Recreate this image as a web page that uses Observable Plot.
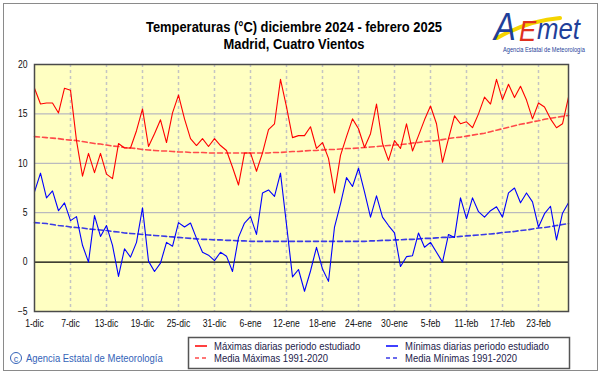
<!DOCTYPE html>
<html>
<head>
<meta charset="utf-8">
<script src="https://cdn.jsdelivr.net/npm/d3@7"></script>
<script src="https://cdn.jsdelivr.net/npm/@observablehq/plot@0.6"></script>
<style>
  html, body { margin: 0; padding: 0; background: #fff; }
  #wrap { position: relative; width: 601px; height: 374px; overflow: hidden; background: #fff;
          font-family: "Liberation Sans", Arial, sans-serif; }
  #border { position: absolute; left: 3px; top: 3px; width: 593px; height: 366px; border: 1px solid #8a8a8a; }
  #chart { position: absolute; left: 0; top: 56px; }
  .abs { position: absolute; left: 0; top: 0; }
</style>
</head>
<body>
<div id="wrap">
  <div id="border"></div>
  <svg class="abs" width="601" height="60" id="head">
    <text x="294" y="32" text-anchor="middle" font-size="15" font-weight="bold" fill="#000" class="cmp">Temperaturas (°C) diciembre 2024 - febrero 2025</text>
    <text x="294" y="49" text-anchor="middle" font-size="15" font-weight="bold" fill="#000" class="cmp">Madrid, Cuatro Vientos</text>
    <g id="logo">
      <path d="M497,38 C515,28 535,20 560,18" fill="none" stroke="#f5d400" stroke-width="4" stroke-linecap="round"/>
      <text x="494" y="40" font-size="38" font-style="italic" fill="#1f3f9a" class="cmp">A</text>
      <text x="519" y="41" font-size="30" font-style="italic" fill="#e0301e" class="cmp">E</text>
      <text x="537" y="39" font-size="30" font-style="italic" fill="#1f3f9a" class="cmp">met</text>
      <text x="544" y="52" text-anchor="middle" font-size="6.6" fill="#1f3f9a" class="cmp">Agencia Estatal de Meteorología</text>
    </g>
  </svg>
  <div id="chart"></div>
  <svg class="abs" width="601" height="374" id="foot" style="pointer-events:none">
    <g>
      <circle cx="16" cy="358" r="5.5" fill="none" stroke="#3463b8" stroke-width="1"/>
      <text x="16" y="361.5" text-anchor="middle" font-size="9" fill="#3463b8">c</text>
      <text x="26" y="362" font-size="11" fill="#3463b8" class="cmp">Agencia Estatal de Meteorología</text>
    </g>
    <rect x="188.5" y="337.5" width="381" height="31" fill="#fff" stroke="#555" stroke-width="1.5"/>
    <g id="legend"></g>
  </svg>
</div>
<script>
// ---- data ----
const tmax = [17.6,16.0,16.1,16.1,15.1,17.6,17.4,12.3,8.7,11.0,
              9.05,11.0,8.9,8.45,12.0,11.55,11.55,13.3,15.5,11.7,
              13.0,14.4,12.1,15.1,16.9,14.5,12.5,11.8,12.5,11.7,
              12.5,11.8,11.3,9.6,7.8,11.05,11.05,9.2,11.05,13.4,
              14.0,18.5,15.7,12.6,12.8,12.8,13.7,11.5,12.1,10.5,
              7.0,10.8,12.7,14.5,13.5,11.6,13.0,16.0,12.0,10.3,
              12.3,11.5,14.0,11.25,12.8,14.4,15.8,14.0,10.1,12.5,
              14.8,14.0,14.2,13.6,15.0,16.7,16.0,18.5,16.45,18.0,
              16.65,17.8,16.4,14.5,16.1,15.7,14.5,13.6,14.0,16.7];
const tmin = [7.1,9.0,6.5,7.2,5.2,6.0,4.2,4.6,1.7,0.0,
              4.7,2.6,3.7,1.7,-1.45,1.35,0.5,2.0,5.5,0.1,
              -0.95,-0.1,2.0,1.6,4.0,3.55,3.95,2.4,1.0,0.7,
              0.15,1.0,0.6,-0.95,2.5,3.95,4.6,2.8,7.0,7.3,
              6.65,9.0,3.8,-1.5,-0.75,-2.95,-0.9,1.5,-0.7,-1.95,
              3.55,5.9,8.55,7.65,9.5,7.1,4.55,6.7,4.55,3.7,
              2.95,-0.45,0.55,0.65,2.95,1.5,2.0,1.0,0.0,2.8,
              2.5,6.5,4.4,6.5,5.1,4.55,5.2,5.6,4.55,7.0,
              7.5,6.0,7.0,6.1,3.55,4.9,5.65,2.25,4.95,6.0];
const normMax = [12.7,12.65,12.6,12.55,12.5,12.4,12.35,12.3,12.2,12.1,
                 12.0,11.95,11.85,11.75,11.7,11.6,11.55,11.5,11.4,11.35,
                 11.3,11.25,11.25,11.2,11.15,11.15,11.1,11.1,11.1,11.05,
                 11.05,11.05,11.05,11.05,11.05,11.05,11.05,11.05,11.05,11.05,
                 11.1,11.1,11.15,11.2,11.2,11.25,11.3,11.3,11.35,11.4,
                 11.4,11.45,11.5,11.5,11.55,11.6,11.65,11.7,11.75,11.8,
                 11.85,11.9,11.95,12.05,12.1,12.2,12.25,12.3,12.4,12.5,
                 12.6,12.65,12.75,12.85,12.95,13.05,13.2,13.35,13.5,13.65,
                 13.8,13.95,14.05,14.2,14.3,14.45,14.55,14.65,14.75,14.85];
const normMin = [4.0,3.95,3.9,3.8,3.7,3.65,3.55,3.5,3.45,3.35,
                 3.3,3.25,3.2,3.1,3.05,2.95,2.9,2.85,2.8,2.75,
                 2.7,2.65,2.6,2.55,2.5,2.45,2.4,2.35,2.3,2.3,
                 2.25,2.25,2.2,2.2,2.15,2.15,2.1,2.1,2.1,2.1,
                 2.1,2.1,2.1,2.1,2.1,2.1,2.1,2.1,2.1,2.1,
                 2.1,2.1,2.1,2.1,2.1,2.1,2.15,2.15,2.2,2.2,
                 2.25,2.25,2.3,2.3,2.35,2.4,2.4,2.45,2.5,2.5,
                 2.55,2.6,2.65,2.7,2.75,2.8,2.85,2.9,3.0,3.05,
                 3.1,3.2,3.25,3.35,3.45,3.5,3.6,3.7,3.8,3.9];
const tickDays = [0,6,12,18,24,30,36,42,48,54,60,66,72,78,84];
const tickLabels = ["1-dic","7-dic","13-dic","19-dic","25-dic","31-dic","6-ene","12-ene","18-ene","24-ene","30-ene","5-feb","11-feb","17-feb","23-feb"];
const yTicks = [-5,0,5,10,15,20];
const gridY = [5,10,15];
const seriesNames = ["Máximas diarias periodo estudiado","Mínimas diarias periodo estudiado","Media Máximas 1991-2020","Media Mínimas 1991-2020"];

const rows = tmax.map((v,i) => ({day: i, tmax: v, tmin: tmin[i], nmax: normMax[i], nmin: normMin[i]}));

const RED = "#ff0000", BLUE = "#0000ff", RED_D = "#ff4a4a", BLUE_D = "#3a3ae6";

const chart = Plot.plot({
  width: 601, height: 279,
  marginTop: 8, marginBottom: 24, marginLeft: 34, marginRight: 33,
  x: {domain: [0, 89], axis: null},
  y: {domain: [-5, 20], axis: null},
  style: {fontFamily: "Liberation Sans, Arial, sans-serif", fontSize: "10px", background: "transparent", color: "#111"},
  marks: [
    Plot.frame({fill: "#ffffc2"}),
    Plot.ruleX(tickDays.slice(1), {stroke: "#c4c4c4", strokeWidth: 1.5, strokeDasharray: "3,3"}),
    Plot.ruleY(gridY, {stroke: "#a9a9bd", strokeWidth: 1}),
    Plot.ruleY([0], {stroke: "#000", strokeWidth: 1.2}),
    Plot.line(rows, {x: "day", y: "nmax", stroke: RED_D, strokeWidth: 1.6, strokeDasharray: "5,3"}),
    Plot.line(rows, {x: "day", y: "nmin", stroke: BLUE_D, strokeWidth: 1.6, strokeDasharray: "5,3"}),
    Plot.line(rows, {x: "day", y: "tmax", stroke: RED, strokeWidth: 1.1}),
    Plot.line(rows, {x: "day", y: "tmin", stroke: BLUE, strokeWidth: 1.1}),
    Plot.frame({stroke: "#4a4a4a", strokeWidth: 1.5}),
    Plot.axisX(tickDays, {tickSize: 0, tickPadding: 8, label: null, tickFormat: d => tickLabels[tickDays.indexOf(d)], fill: "#111"}),
    Plot.axisY(yTicks, {tickSize: 0, tickPadding: 7, label: null, fill: "#111"})
  ]
});
document.getElementById("chart").appendChild(chart);

// legend built from series names
const NS = "http://www.w3.org/2000/svg";
const leg = document.getElementById("legend");
const legItems = [
  {name: seriesNames[0], color: RED, dash: null, x: 195, y: 346},
  {name: seriesNames[1], color: BLUE, dash: null, x: 386, y: 346},
  {name: seriesNames[2], color: RED_D, dash: "4,3", x: 195, y: 358},
  {name: seriesNames[3], color: BLUE_D, dash: "4,3", x: 386, y: 358}
];
for (const it of legItems) {
  const l = document.createElementNS(NS, "line");
  l.setAttribute("x1", it.x); l.setAttribute("x2", it.x + 12);
  l.setAttribute("y1", it.y); l.setAttribute("y2", it.y);
  l.setAttribute("stroke", it.color); l.setAttribute("stroke-width", 1.5);
  if (it.dash) l.setAttribute("stroke-dasharray", it.dash);
  leg.appendChild(l);
  const t = document.createElementNS(NS, "text");
  t.setAttribute("x", it.x + 19); t.setAttribute("y", it.y + 4);
  t.setAttribute("font-size", 11); t.setAttribute("fill", "#22224a");
  t.setAttribute("class", "cmp");
  t.textContent = it.name;
  leg.appendChild(t);
}

// narrow the text horizontally like the reference rendering
function squeeze(t, k) {
  const L = t.getComputedTextLength();
  if (L > 0) { t.setAttribute("textLength", (L * k).toFixed(2)); t.setAttribute("lengthAdjust", "spacingAndGlyphs"); }
}
chart.querySelectorAll("text").forEach(t => squeeze(t, 0.86));
document.querySelectorAll("text.cmp").forEach(t => squeeze(t, 0.86));
</script>
</body>
</html>
